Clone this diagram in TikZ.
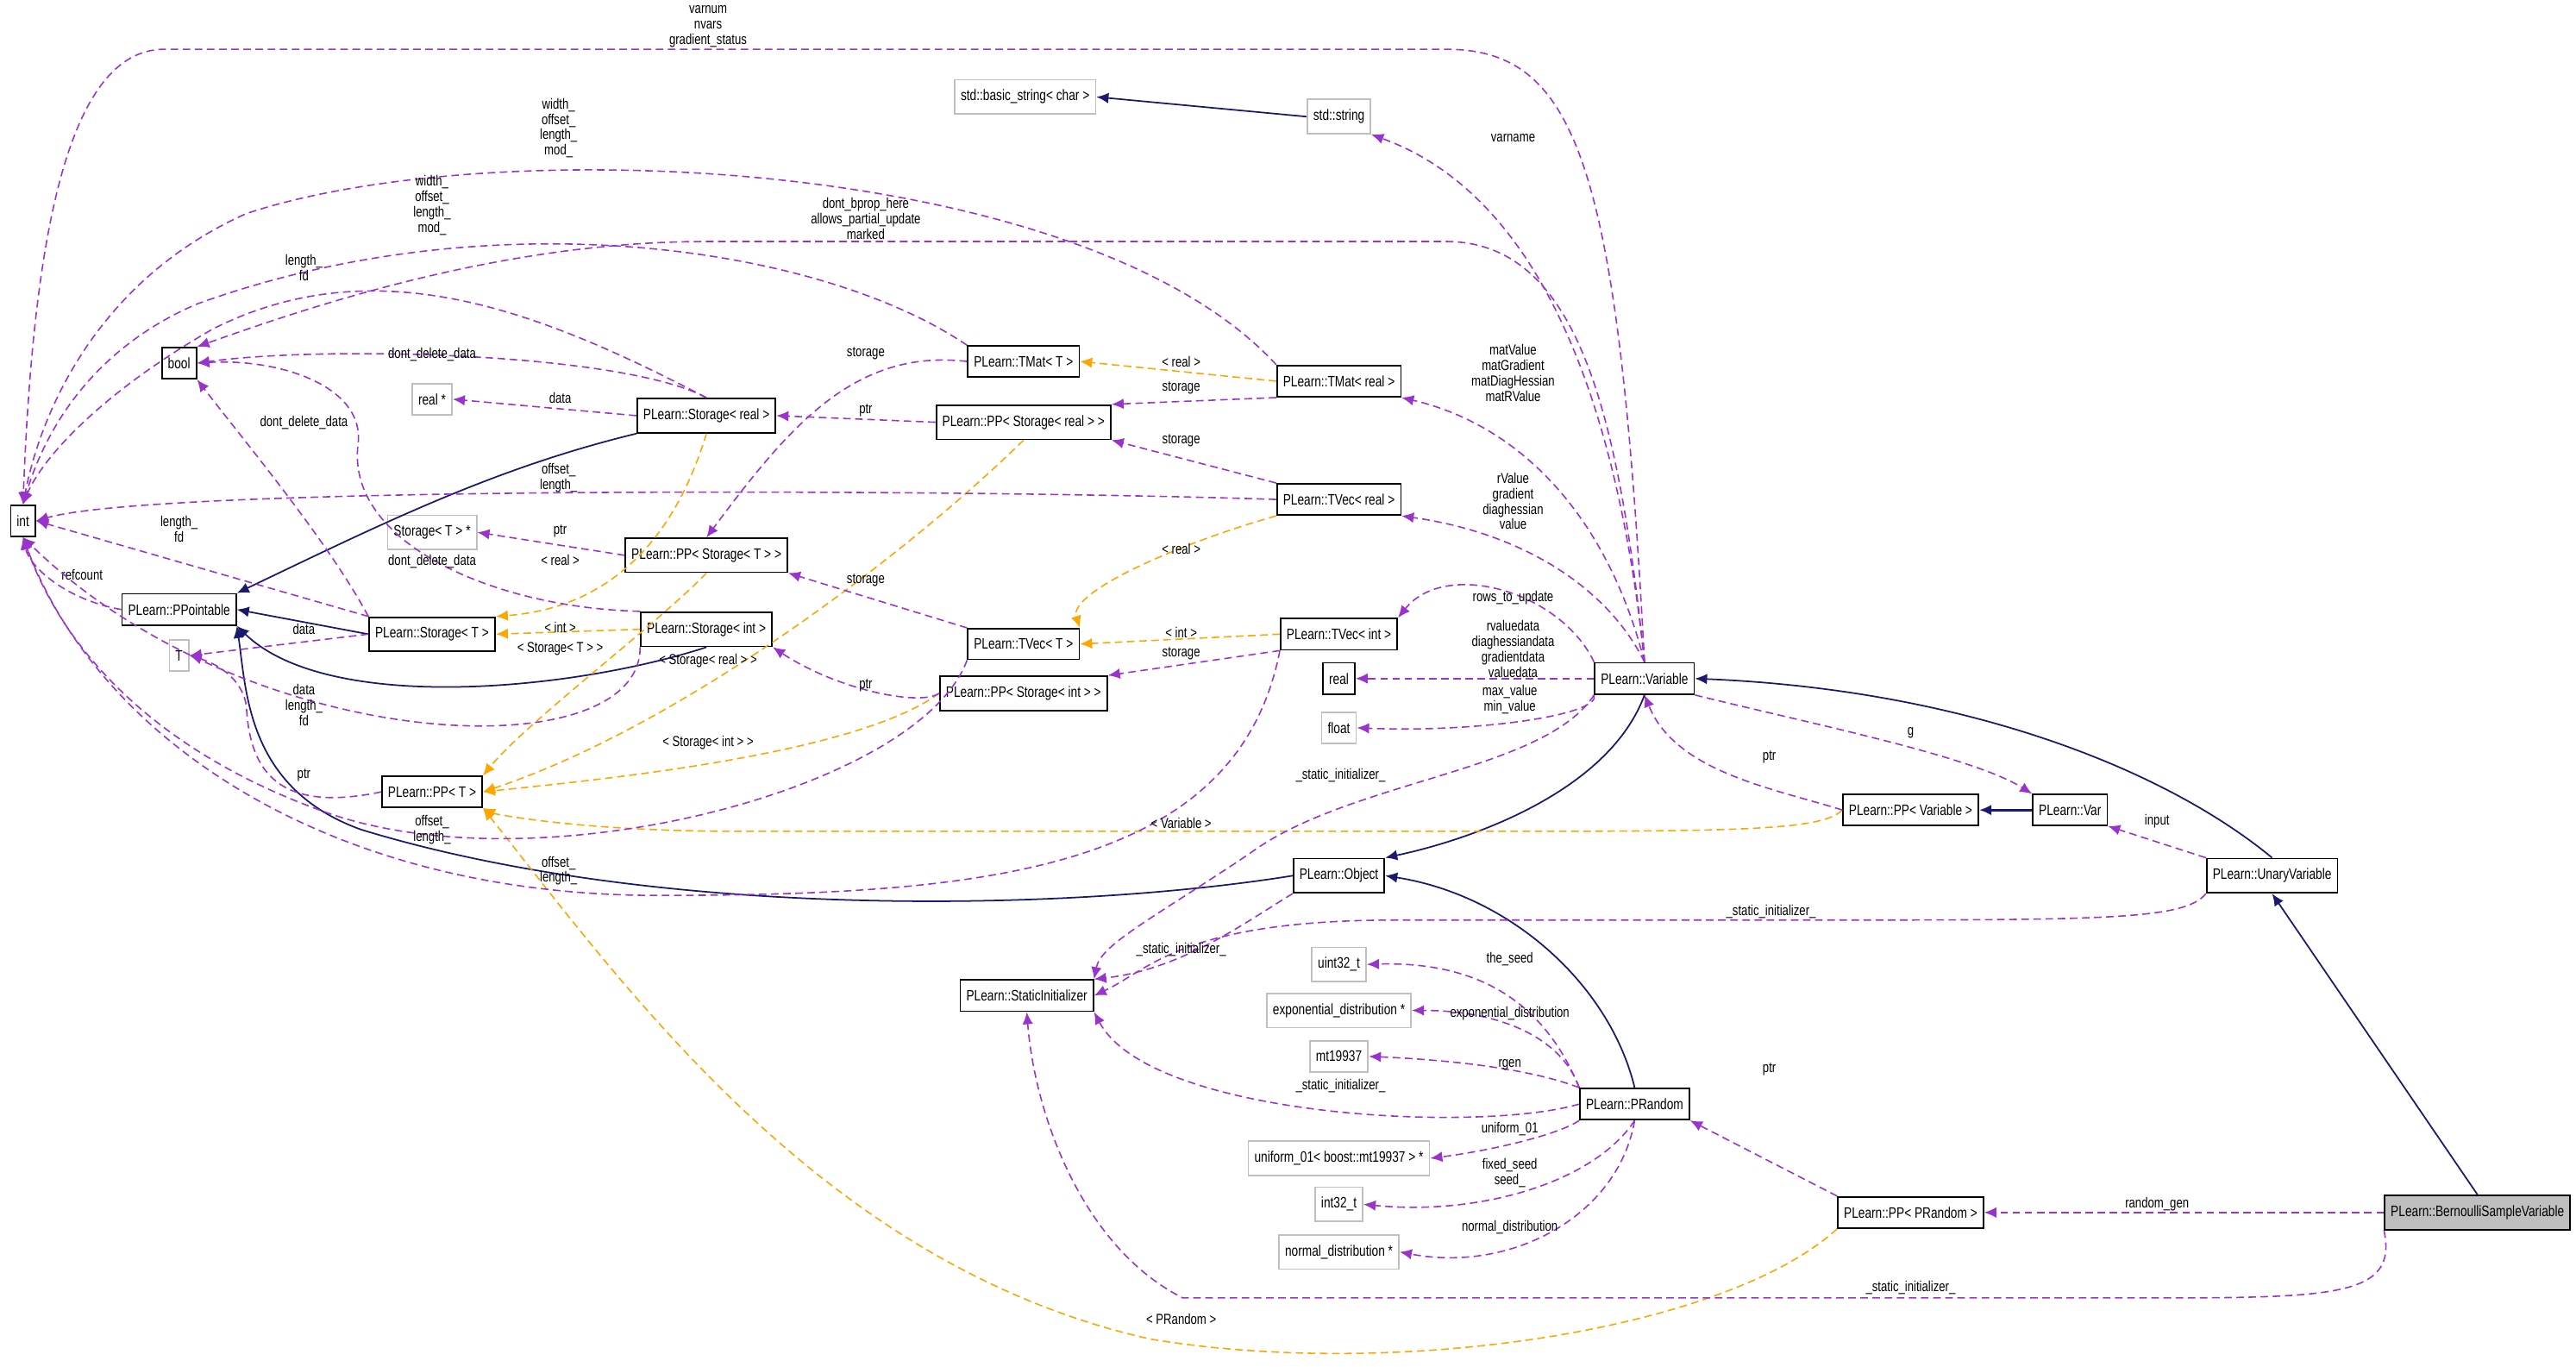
\documentclass[tikz,border=0pt]{standalone}
\usepackage{fontspec}
\setmainfont[FakeStretch=0.78]{Liberation Sans}
\usetikzlibrary{arrows.meta}
\definecolor{mem}{HTML}{9A32CD}
\definecolor{tpl}{HTML}{FFA500}
\definecolor{inh}{HTML}{191970}
\definecolor{ext}{HTML}{BFBFBF}
\begin{document}
\begin{tikzpicture}[x=0.01905cm,y=-0.01905cm,
  cls/.style={draw=black,line width=0.5pt,inner xsep=2pt,minimum height=9.6pt,font=\fontsize{5}{6}\selectfont},
  extc/.style={cls,draw=ext},
  mbr/.style={draw=mem,dash pattern=on 2.5pt off 1.5pt,line width=0.45pt,-{Latex[length=4pt,width=3.5pt]}},
  tp/.style={draw=tpl,dash pattern=on 2.5pt off 1.5pt,line width=0.45pt,-{Latex[length=4pt,width=3.5pt]}},
  ih/.style={draw=inh,line width=0.5pt,-{Latex[length=4pt,width=3.5pt]}},
  lb/.style={font=\fontsize{4.8}{5.1}\selectfont,align=center,inner sep=0pt}]
\useasboundingbox (0,0) rectangle (1568,832);
% nodes
\node[cls] (int) at (14,317) {int};
\node[cls] (bool) at (109,221) {bool};
\node[extc] (realp) at (263,243) {real *};
\node[cls] (StR) at (430,253) {PLearn::Storage< real >};
\node[cls] (TMatT) at (623,220) {PLearn::TMat< T >};
\node[cls] (PPStR) at (623,257) {PLearn::PP< Storage< real > >};
\node[cls] (TMatR) at (815,232) {PLearn::TMat< real >};
\node[cls] (TVecR) at (815,304) {PLearn::TVec< real >};
\node[extc] (StTp) at (263,324) {Storage< T > *};
\node[cls] (PPStT) at (430,338) {PLearn::PP< Storage< T > >};
\node[cls] (PPt) at (109,371) {PLearn::PPointable};
\node[cls] (StT) at (263,386) {PLearn::Storage< T >};
\node[cls] (StI) at (430,383) {PLearn::Storage< int >};
\node[extc] (T) at (109,399) {T};
\node[cls] (TVecT) at (623,392) {PLearn::TVec< T >};
\node[cls] (TVecI) at (815,386) {PLearn::TVec< int >};
\node[cls] (PPStI) at (623,422) {PLearn::PP< Storage< int > >};
\node[cls] (real) at (815,413) {real};
\node[extc] (float) at (815,443) {float};
\node[cls] (Var) at (1001,413) {PLearn::Variable};
\node[cls] (PPT) at (263,482) {PLearn::PP< T >};
\node[cls] (PPV) at (1163,493) {PLearn::PP< Variable >};
\node[cls] (VarV) at (1260,493) {PLearn::Var};
\node[cls] (Obj) at (815,533) {PLearn::Object};
\node[cls] (UV) at (1383,533) {PLearn::UnaryVariable};
\node[cls] (SI) at (625,606) {PLearn::StaticInitializer};
\node[extc] (u32) at (815,587) {uint32\_t};
\node[extc] (expd) at (815,615) {exponential\_distribution *};
\node[extc] (mt) at (815,643) {mt19937};
\node[cls] (PR) at (995,672) {PLearn::PRandom};
\node[extc] (uni) at (815,705) {uniform\_01< boost::mt19937 > *};
\node[extc] (i32) at (815,733) {int32\_t};
\node[extc] (nd) at (815,762) {normal\_distribution *};
\node[cls] (PPPR) at (1163,738) {PLearn::PP< PRandom >};
\node[cls,fill=ext] (Bern) at (1508,738) {PLearn::BernoulliSampleVariable};
\node[extc] (bstr) at (624,59) {std::basic\_string< char >};
\node[extc] (str) at (815,71) {std::string};
% inheritance
\draw[ih] (str.west) -- (bstr.east);
\draw[ih] (StR.south west) .. controls (300,285) and (230,320) .. (PPt.north east);
\draw[ih] (StT.west) -- (PPt.east);
\draw[ih] (StI.south) .. controls (350,420) and (200,435) .. (PPt.south east);
\draw[ih] (Obj.west) .. controls (650,555) and (400,560) .. (220,505) .. controls (150,480) and (150,420) .. (PPt.south east);
\draw[ih] (Var.south) .. controls (980,480) and (900,510) .. (Obj.north east);
\draw[ih] (PR.north) .. controls (980,600) and (920,545) .. (Obj.east);
\draw[ih] (UV.north) .. controls (1320,470) and (1200,420) .. (Var.east);
\draw[ih] (Bern.north) -- (UV.south);
\draw[ih,line width=0.8pt] (VarV.west) -- (PPV.east);
% templates
\draw[tp] (TMatR.west) -- (TMatT.east);
\draw[tp] (TVecR.south west) .. controls (720,330) and (650,360) .. (TVecT.north east);
\draw[tp] (TVecI.west) -- (TVecT.east);
\draw[tp] (StR.south) .. controls (410,330) and (370,370) .. (StT.north east);
\draw[tp] (StI.west) -- (StT.east);
\draw[tp] (PPStT.south) .. controls (400,380) and (320,440) .. (PPT.north east);
\draw[tp] (PPStR.south) .. controls (560,330) and (420,440) .. (PPT.east);
\draw[tp] (PPStI.west) .. controls (520,460) and (360,475) .. (PPT.east);
\draw[tp] (PPV.west) .. controls (1110,506) and (1050,506) .. (900,506) -- (450,506) .. controls (350,506) and (300,495) .. (PPT.south east);
\draw[tp] (PPPR.south west) .. controls (1050,810) and (850,840) .. (700,815) .. controls (500,770) and (380,600) .. (PPT.south east);
% members
\draw[mbr] (Var.north) .. controls (985,100) and (960,30) .. (880,30) -- (100,30) .. controls (40,30) and (20,150) .. (int.north);
\node[lb] at (431,16) {varnum\\nvars\\gradient\_status};
\draw[mbr] (TMatR.north west) .. controls (660,95) and (300,80) .. (150,130) .. controls (60,170) and (25,250) .. (int.north);
\node[lb] at (340,78) {width\_\\offset\_\\length\_\\mod\_};
\draw[mbr] (TMatT.north west) .. controls (500,150) and (300,120) .. (120,185) .. controls (50,215) and (25,270) .. (int.north);
\node[lb] at (263,125) {width\_\\offset\_\\length\_\\mod\_};
\draw[mbr] (Var.north) .. controls (985,250) and (960,147) .. (880,147) -- (430,147) .. controls (300,147) and (180,190) .. (bool.north east);
\node[lb] at (527,133) {dont\_bprop\_here\\allows\_partial\_update\\marked};
\draw[mbr] (StR.north) .. controls (330,190) and (230,150) .. (130,200) .. controls (60,240) and (25,280) .. (int.north);
\node[lb] at (185,163) {length\_\\fd};
\draw[mbr] (StR.north) .. controls (380,215) and (200,210) .. (bool.east);
\node[lb] at (263,216) {dont\_delete\_data};
\draw[mbr] (StR.west) -- (realp.east);
\node[lb] at (341,242) {data};
\draw[mbr] (PPStR.west) -- (StR.east);
\node[lb] at (527,250) {ptr};
\draw[mbr] (TMatT.west) .. controls (520,212) and (480,260) .. (PPStT.north);
\node[lb] at (527,215) {storage};
\draw[mbr] (TMatR.south west) -- (PPStR.north east);
\node[lb] at (719,236) {storage};
\draw[mbr] (TVecR.north west) -- (PPStR.south east);
\node[lb] at (719,268) {storage};
\draw[mbr] (TVecR.west) .. controls (600,298) and (100,295) .. (int.east);
\node[lb] at (340,291) {offset\_\\length\_};
\draw[mbr] (StT.north west) .. controls (200,330) and (150,270) .. (bool.south east);
\node[lb] at (185,257) {dont\_delete\_data};
\draw[mbr] (StI.north west) .. controls (300,370) and (210,330) .. (218,270) .. controls (222,235) and (170,218) .. (bool.east);
\node[lb] at (263,342) {dont\_delete\_data};
\draw[mbr] (PPStT.west) -- (StTp.east);
\node[lb] at (341,323) {ptr};
\draw[mbr] (StT.north west) -- (int.east);
\node[lb] at (109,322) {length\_\\fd};
\draw[mbr] (PPt.west) .. controls (40,365) and (18,345) .. (int.south);
\node[lb] at (50,350) {refcount};
\draw[mbr] (StT.west) -- (T.east);
\node[lb] at (185,383) {data};
\draw[mbr] (StI.south west) .. controls (390,470) and (150,460) .. (int.south);
\node[lb] at (185,429) {data\\length\_\\fd};
\draw[mbr] (PPT.west) .. controls (170,495) and (152,470) .. (150,430) .. controls (148,415) and (135,405) .. (T.east);
\node[lb] at (185,472) {ptr};
\draw[mbr] (TVecT.south west) .. controls (560,480) and (330,540) .. (200,495) .. controls (100,460) and (40,400) .. (int.south);
\node[lb] at (263,505) {offset\_\\length\_};
\draw[mbr] (TVecI.south west) .. controls (753,530) and (600,545) .. (400,545) .. controls (200,545) and (60,450) .. (int.south);
\node[lb] at (340,530) {offset\_\\length\_};
\draw[mbr] (PPStI.west) .. controls (560,430) and (510,420) .. (StI.south east);
\node[lb] at (527,417) {ptr};
\draw[mbr] (TVecT.north west) -- (PPStT.south east);
\node[lb] at (527,353) {storage};
\draw[mbr] (TVecI.south west) -- (PPStI.north east);
\node[lb] at (719,398) {storage};
\draw[mbr] (Var.north) .. controls (985,250) and (940,120) .. (str.south east);
\node[lb] at (921,84) {varname};
\draw[mbr] (Var.north) .. controls (980,320) and (930,260) .. (TMatR.south east);
\node[lb] at (921,227) {matValue\\matGradient\\matDiagHessian\\matRValue};
\draw[mbr] (Var.north) .. controls (980,360) and (930,325) .. (TVecR.south east);
\node[lb] at (921,305) {rValue\\gradient\\diaghessian\\value};
\draw[mbr] (Var.north west) .. controls (950,360) and (880,340) .. (TVecI.north east);
\node[lb] at (921,364) {rows\_to\_update};
\draw[mbr] (Var.west) -- (real.east);
\node[lb] at (921,395) {rvaluedata\\diaghessiandata\\gradientdata\\valuedata};
\draw[mbr] (Var.south west) .. controls (975,435) and (900,446) .. (float.east);
\node[lb] at (919,426) {max\_value\\min\_value};
\draw[mbr] (Var.south west) .. controls (940,470) and (820,475) .. (760,520) .. controls (700,560) and (670,575) .. (SI.north east);
\node[lb] at (816,472) {\_static\_initializer\_};
\draw[mbr] (Var.south east) .. controls (1100,440) and (1200,460) .. (VarV.north west);
\node[lb] at (1163,446) {g};
\draw[mbr] (PPV.west) .. controls (1080,480) and (1020,470) .. (Var.south);
\node[lb] at (1077,461) {ptr};
\draw[mbr] (UV.north west) -- (VarV.south east);
\node[lb] at (1313,500) {input};
\draw[mbr] (UV.south west) .. controls (1330,560) and (1280,560) .. (1100,560) -- (850,560) .. controls (720,560) and (700,590) .. (SI.east);
\node[lb] at (1078,555) {\_static\_initializer\_};
\draw[mbr] (Obj.south west) .. controls (760,560) and (720,590) .. (SI.north east);
\node[lb] at (719,578) {\_static\_initializer\_};
\draw[mbr] (PR.west) .. controls (900,690) and (700,680) .. (SI.south east);
\node[lb] at (816,661) {\_static\_initializer\_};
\draw[mbr] (Bern.south west) .. controls (1460,790) and (1420,790) .. (1300,790) -- (720,790) .. controls (660,760) and (630,680) .. (SI.south);
\node[lb] at (1163,784) {\_static\_initializer\_};
\draw[mbr] (PR.north west) .. controls (940,610) and (900,585) .. (u32.east);
\node[lb] at (919,584) {the\_seed};
\draw[mbr] (PR.north west) .. controls (950,630) and (910,615) .. (expd.east);
\node[lb] at (919,617) {exponential\_distribution};
\draw[mbr] (PR.north west) .. controls (930,650) and (880,645) .. (mt.east);
\node[lb] at (919,648) {rgen};
\draw[mbr] (PR.south west) .. controls (950,690) and (910,700) .. (uni.east);
\node[lb] at (919,687) {uniform\_01};
\draw[mbr] (PR.south) .. controls (970,720) and (900,740) .. (i32.east);
\node[lb] at (919,714) {fixed\_seed\\seed\_};
\draw[mbr] (PR.south) .. controls (985,740) and (920,775) .. (nd.east);
\node[lb] at (919,747) {normal\_distribution};
\draw[mbr] (PPPR.north west) -- (PR.south east);
\node[lb] at (1077,651) {ptr};
\draw[mbr] (Bern.west) -- (PPPR.east);
\node[lb] at (1313,733) {random\_gen};
% template labels
\node[lb] at (719,220) {< real >};
\node[lb] at (719,334) {< real >};
\node[lb] at (719,385) {< int >};
\node[lb] at (341,341) {< real >};
\node[lb] at (341,382) {< int >};
\node[lb] at (341,395) {< Storage< T > >};
\node[lb] at (431,402) {< Storage< real > >};
\node[lb] at (431,452) {< Storage< int > >};
\node[lb] at (719,501) {< Variable >};
\node[lb] at (719,803) {< PRandom >};
\end{tikzpicture}
\end{document}
